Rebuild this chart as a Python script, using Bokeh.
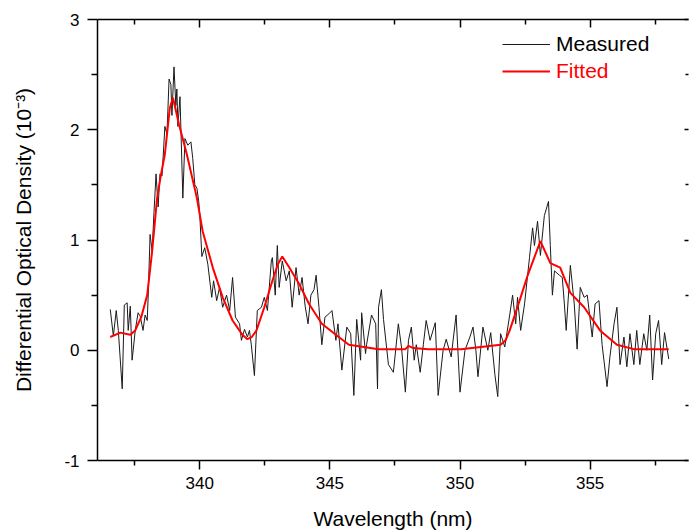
from bokeh.plotting import figure
from bokeh.models import LinearAxis, FixedTicker, Legend, LegendItem, Range1d, CustomLabelingPolicy
from bokeh.embed import file_html
from bokeh.resources import INLINE

# ---- data ----
wl_measured = [
    336.56, 336.68, 336.79, 336.87, 337.02, 337.10, 337.21, 337.25, 337.33, 337.40,
    337.52, 337.63, 337.71, 337.82, 337.90, 337.98, 338.02, 338.09, 338.17, 338.24,
    338.32, 338.40, 338.47, 338.55, 338.66, 338.74, 338.82, 338.89, 338.93, 339.01,
    339.08, 339.12, 339.16, 339.24, 339.35, 339.43, 339.54, 339.66, 339.73, 339.81,
    339.89, 339.96, 340.00, 340.08, 340.19, 340.31, 340.46, 340.53, 340.65, 340.76,
    340.88, 341.03, 341.15, 341.26, 341.37, 341.53, 341.60, 341.72, 341.83, 341.91,
    341.98, 342.10, 342.21, 342.37, 342.48, 342.60, 342.75, 342.79, 342.90, 342.98,
    343.05, 343.17, 343.32, 343.44, 343.55, 343.70, 343.82, 343.93, 344.05, 344.16,
    344.27, 344.39, 344.47, 344.58, 344.69, 344.81,
    344.96, 345.08, 345.23, 345.31, 345.46, 345.65, 345.80, 345.92, 346.03, 346.18,
    346.22, 346.37, 346.41, 346.60, 346.76, 346.83, 346.87, 346.98, 347.06, 347.25,
    347.44, 347.63, 347.75, 347.90, 348.02, 348.13, 348.24, 348.32, 348.47, 348.59,
    348.70, 348.85, 349.05, 349.16, 349.35, 349.47, 349.66, 349.85, 350.00, 350.19,
    350.38, 350.50, 350.61,
    350.69, 350.88, 351.07, 351.18, 351.34, 351.45, 351.56, 351.72, 351.91, 352.02,
    352.14, 352.21, 352.33, 352.48, 352.67, 352.79, 352.86, 352.98, 353.09, 353.24,
    353.40, 353.47, 353.55, 353.63, 353.82, 353.93, 354.01, 354.08, 354.24, 354.39,
    354.50, 354.62, 354.77, 354.89, 355.08, 355.19, 355.34, 355.46, 355.65, 355.76,
    355.92, 356.03, 356.15, 356.30, 356.41, 356.53, 356.68, 356.79, 356.91, 357.06,
    357.18, 357.29, 357.40, 357.52, 357.63, 357.75, 357.86, 358.02,
]
od_measured = [
    0.37, 0.13, 0.36, 0.18, -0.35, 0.41, 0.43, 0.18, 0.40, -0.09,
    0.18, 0.34, 0.31, 0.18, 0.32, 0.27, 0.50, 1.05, 0.90, 1.25,
    1.60, 1.30, 1.60, 1.58, 2.03, 1.96, 2.46, 2.41, 2.13, 2.57,
    2.22, 2.37, 2.03, 2.30, 1.38, 1.92, 1.86, 1.89, 1.74, 1.50,
    1.47, 1.35, 1.23, 0.85, 0.93, 0.78, 0.48, 0.63, 0.45, 0.57,
    0.39, 0.50, 0.36, 0.66, 0.30, 0.24, 0.09, 0.19, 0.12, 0.18,
    0.05, -0.23, 0.36, 0.39, 0.48, 0.36, 0.81, 0.84, 0.50, 0.95,
    0.57, 0.81, 0.63, 0.72, 0.39, 0.75, 0.50, 0.66, 0.40, 0.24,
    0.50, 0.55, 0.68, 0.39, 0.05, 0.30,
    0.33, 0.36, 0.09, 0.24, -0.18, 0.21, 0.15, -0.41, 0.28, -0.09,
    0.34, -0.03, 0.05, 0.32, 0.24, -0.35, 0.39, 0.55, 0.28, -0.13,
    -0.20, 0.24, 0.03, -0.38, 0.09, 0.21, -0.09, 0.05, -0.20, 0.05,
    0.27, 0.09, 0.25, -0.41, 0.00, 0.10, -0.06, 0.32, -0.38, 0.00,
    0.12, 0.21, 0.00,
    -0.24, 0.21, 0.00, 0.16, -0.22, -0.42, 0.15, 0.03, 0.32, 0.50,
    0.24, 0.48, 0.18, 0.42, 0.84, 1.11, 0.95, 1.17, 0.86, 1.22,
    1.35, 0.95, 0.50, 0.72, 0.68, 0.66, 0.42, 0.18, 0.77, 0.42,
    0.01, 0.57, 0.48, 0.50, 0.12, 0.42, 0.45, 0.05, -0.33, -0.06,
    0.24, 0.39, -0.13, 0.12, -0.15, 0.15, -0.13, 0.18, -0.13, 0.15,
    0.00, 0.32, -0.27, 0.15, 0.27, -0.13, 0.16, -0.08,
]
wl_fitted = [
    336.56, 336.95, 337.33, 337.52, 337.75, 337.98, 338.17, 338.36, 338.50, 338.66,
    338.85, 338.97, 339.20, 339.50, 339.89, 340.11, 340.50, 340.88, 341.26, 341.64,
    341.83, 342.00, 342.18, 342.48, 342.79, 343.00, 343.17, 343.44, 343.82, 344.20,
    344.69, 345.34, 345.73, 346.87, 347.90, 348.02, 348.20, 348.78, 350.04, 351.56,
    351.75, 351.91, 352.29, 352.60, 353.09, 353.47, 353.85, 354.24, 354.77, 355.38,
    356.03, 356.68, 358.02,
]
od_fitted = [
    0.12, 0.16, 0.14, 0.18, 0.30, 0.50, 0.90, 1.38, 1.58, 1.78,
    2.20, 2.29, 2.05, 1.78, 1.38, 1.08, 0.75, 0.48, 0.27, 0.14,
    0.10, 0.12, 0.18, 0.39, 0.63, 0.78, 0.85, 0.75, 0.60, 0.42,
    0.24, 0.12, 0.05, 0.01, 0.01, 0.04, 0.02, 0.01, 0.01, 0.05,
    0.09, 0.18, 0.45, 0.68, 0.99, 0.79, 0.75, 0.52, 0.39, 0.18,
    0.05, 0.01, 0.01,
]
x_major = [340, 345, 350, 355]
x_minor = [337.5, 342.5, 347.5, 352.5, 357.5]
y_major = [-1, 0, 1, 2, 3]
y_minor = [-0.5, 0.5, 1.5, 2.5]
y_labels = ["-1", "0", "1", "2", "3"]
labels = ["Measured", "Fitted"]

FONT = "Liberation Sans"

p = figure(width=692, height=532, output_backend="svg", toolbar_location=None,
           x_range=Range1d(336.07, 358.78), y_range=Range1d(-1, 3),
           min_border_left=97, min_border_top=19, min_border_bottom=70,
           min_border_right=0)
p.outline_line_color = None
p.xgrid.visible = False
p.ygrid.visible = False
p.background_fill_color = "white"
p.border_fill_color = "white"

xt = FixedTicker(ticks=x_major, minor_ticks=x_minor)
yt = FixedTicker(ticks=y_major, minor_ticks=y_minor)

hide_labels = CustomLabelingPolicy(code="""
try {
  if (typeof indices.clear === 'function') { indices.clear() }
  else { for (let i = 0; i < indices.size; i++) indices.unset(i) }
} catch (e) {}
return indices
""")

def style(ax, ticker, show_labels, tin, tout):
    ax.ticker = ticker
    ax.axis_line_width = 1.5
    ax.axis_line_color = "black"
    ax.major_tick_line_width = 1.5
    ax.minor_tick_line_width = 1.5
    ax.major_tick_line_color = "black"
    ax.minor_tick_line_color = "black"
    ax.major_tick_in = tin
    ax.major_tick_out = tout
    ax.minor_tick_in = tin // 2 + (1 if tin else 0)
    ax.minor_tick_out = tout // 2 + (1 if tout else 0)
    if show_labels:
        ax.major_label_text_font = FONT
        ax.major_label_text_font_size = "17px"
        ax.major_label_text_color = "black"
        ax.axis_label_text_font = FONT
        ax.axis_label_text_font_size = "21px"
        ax.axis_label_text_font_style = "normal"
        ax.axis_label_text_color = "black"
    else:
        ax.major_label_policy = hide_labels
        ax.major_label_text_font_size = "1px"
        ax.major_label_standoff = 0

xa = p.xaxis[0]
style(xa, xt, True, 0, 9)
xa.axis_label = "Wavelength (nm)"
xa.major_label_standoff = 7
xa.axis_label_standoff = 15

ya = p.yaxis[0]
style(ya, yt, True, 0, 10)
ya.axis_label = "Differential Optical Density (10\u207b\u00b3)"
ya.major_label_standoff = 8
ya.axis_label_standoff = 26
ya.major_label_overrides = {t: s for t, s in zip(y_major, y_labels)}

top = LinearAxis()
style(top, xt, False, 8, 0)
p.add_layout(top, "above")

right = LinearAxis()
style(right, yt, False, 4, 0)
right.axis_line_color = None
p.add_layout(right, "right")

r_meas = p.line(wl_measured, od_measured, line_color="#1a1a1a", line_width=1)
r_fit = p.line(wl_fitted, od_fitted, line_color="#ff0000", line_width=2)

def make_legend(label, renderer, color, loc):
    lg = Legend(items=[LegendItem(label=label, renderers=[renderer])], location=loc)
    lg.border_line_color = None
    lg.background_fill_alpha = 0
    lg.padding = 0
    lg.margin = 0
    lg.glyph_width = 48
    lg.glyph_height = 20
    lg.label_height = 20
    lg.label_standoff = 6
    lg.label_text_font = FONT
    lg.label_text_font_size = "21px"
    lg.label_text_color = color
    return lg

p.add_layout(make_legend(labels[0], r_meas, "black", (405, 404)), "center")
p.add_layout(make_legend(labels[1], r_fit, "#ff0000", (405, 377)), "center")

open("out.html", "w").write(file_html(p, INLINE))
